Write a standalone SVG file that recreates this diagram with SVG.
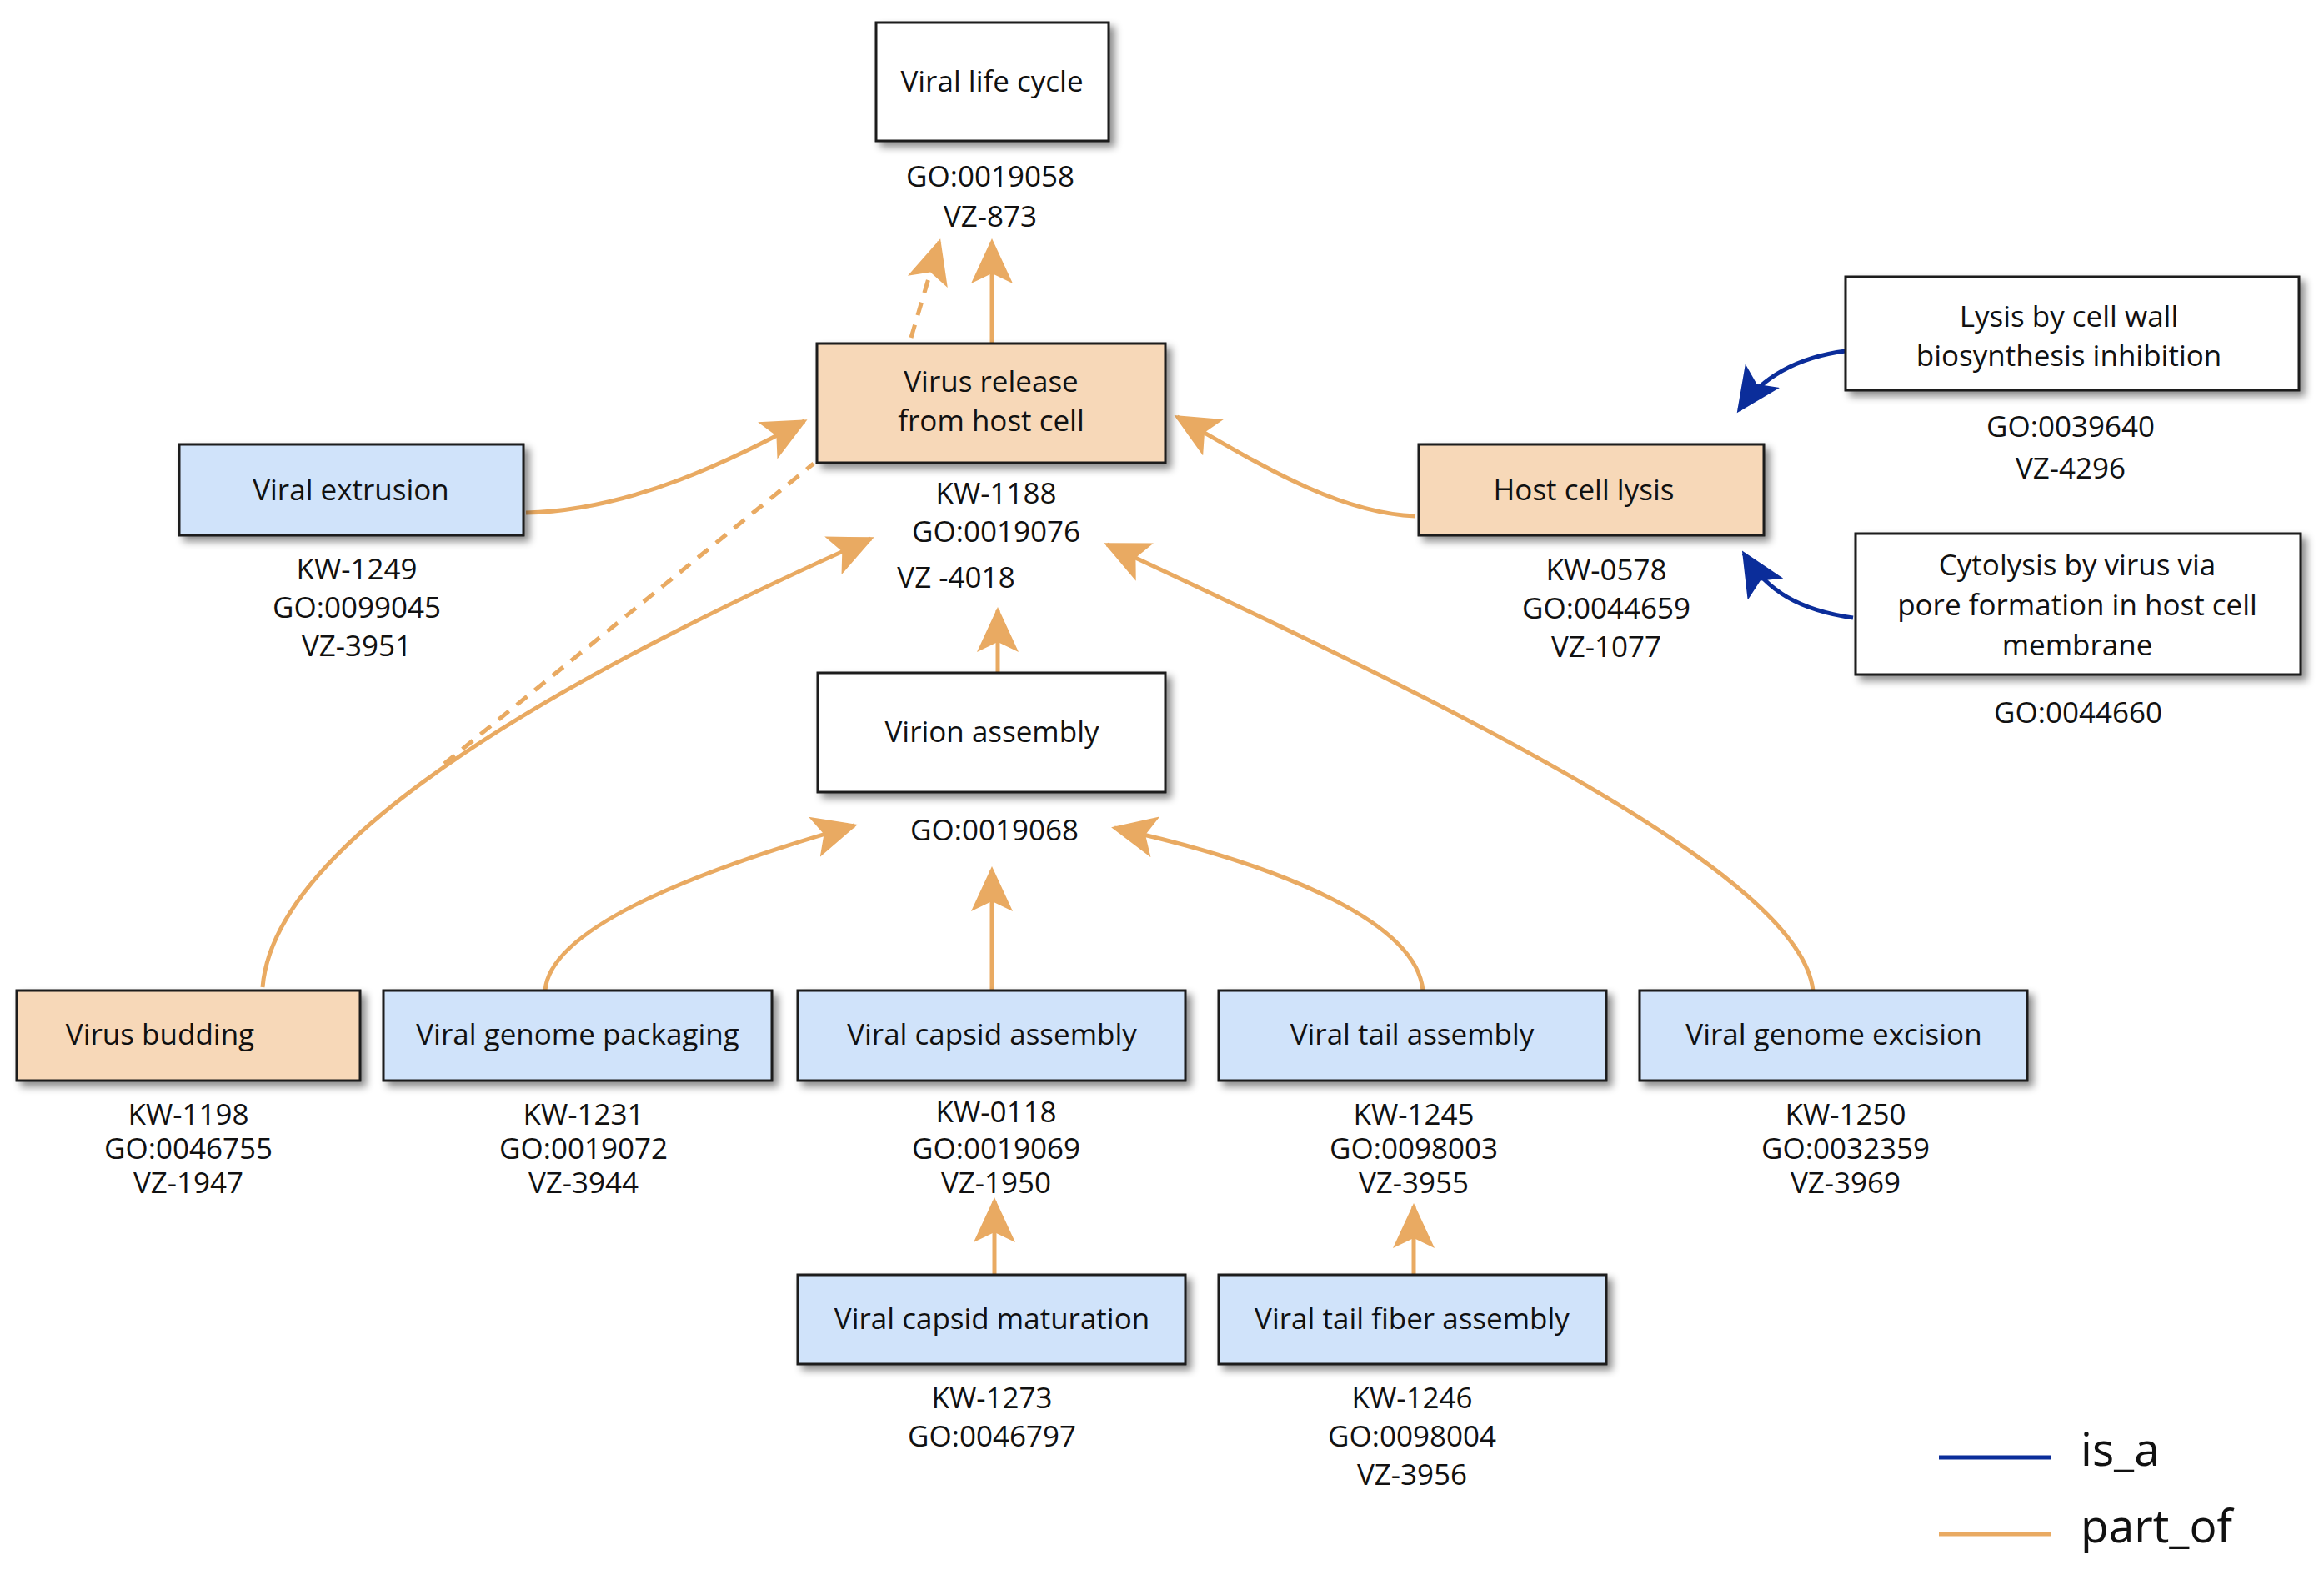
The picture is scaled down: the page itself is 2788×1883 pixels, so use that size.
<svg xmlns="http://www.w3.org/2000/svg" width="2788" height="1883" viewBox="0 0 2788 1883">
<style>
.b{stroke:#1a1a1a;stroke-width:3;filter:url(#sh)}
.w{fill:#fff}.p{fill:#f7d8b8}.c{fill:#d0e3fa}
text{font-family:"Open Sans","Liberation Sans",sans-serif;font-size:35px;fill:#111;text-anchor:middle}
.o{fill:none;stroke:#e9aa62;stroke-width:5}
.d{stroke-dasharray:16 12}
.i{fill:none;stroke:#0b2d9a;stroke-width:5}
</style>
<defs>
<filter id="sh" x="-10%" y="-10%" width="130%" height="140%"><feDropShadow dx="6" dy="6" stdDeviation="5" flood-color="#000" flood-opacity="0.45"/></filter>
<marker id="ao" markerUnits="userSpaceOnUse" markerWidth="60" markerHeight="50" refX="50" refY="25" orient="auto"><path d="M0,0 L54,25 L0,50 L12,25 Z" fill="#e9aa62"/></marker>
<marker id="ai" markerUnits="userSpaceOnUse" markerWidth="60" markerHeight="50" refX="50" refY="25" orient="auto"><path d="M0,0 L54,25 L0,50 L12,25 Z" fill="#0b2d9a"/></marker>
</defs>
<g id="connectors">
<path class="o" d="M1190,412 L1190,290" marker-end="url(#ao)"/>
<path class="o d" d="M1093,405 L1127,290" marker-end="url(#ao)"/>
<path class="o d" d="M533,916 L976,556"/>
<path class="o" d="M315,1184 C330,1000 700,800 1045,646" marker-end="url(#ao)"/>
<path class="o" d="M631,615 C760,612 880,550 965,505" marker-end="url(#ao)"/>
<path class="o" d="M1698,619 C1600,615 1500,550 1412,500" marker-end="url(#ao)"/>
<path class="o" d="M1197,807 L1197,732" marker-end="url(#ao)"/>
<path class="o" d="M2175,1188 C2160,1050 1750,850 1328,653" marker-end="url(#ao)"/>
<path class="o" d="M654,1188 C660,1110 850,1040 1025,990" marker-end="url(#ao)"/>
<path class="o" d="M1190,1188 L1190,1043" marker-end="url(#ao)"/>
<path class="o" d="M1707,1188 C1700,1110 1550,1040 1337,993" marker-end="url(#ao)"/>
<path class="o" d="M1193,1529 L1193,1440" marker-end="url(#ao)"/>
<path class="o" d="M1696,1529 L1696,1447" marker-end="url(#ao)"/>
<path class="i" d="M2214,421 C2160,428 2115,450 2086,492" marker-end="url(#ai)"/>
<path class="i" d="M2223,741 C2160,732 2120,710 2092,664" marker-end="url(#ai)"/>
</g>
<g id="n1"><rect class="b w" x="1051" y="27" width="279" height="142"/><text x="1190" y="110">Viral life cycle</text><text x="1188" y="224">GO:0019058</text><text x="1188" y="272">VZ-873</text></g>
<g id="n2"><rect class="b p" x="980" y="412" width="418" height="143"/><text x="1189" y="470">Virus release</text><text x="1189" y="517">from host cell</text><text x="1195" y="604">KW-1188</text><text x="1195" y="650">GO:0019076</text><text x="1147" y="705">VZ -4018</text></g>
<g id="n3"><rect class="b c" x="215" y="533" width="413" height="109"/><text x="421" y="600">Viral extrusion</text><text x="428" y="695">KW-1249</text><text x="428" y="741">GO:0099045</text><text x="428" y="787">VZ-3951</text></g>
<g id="n4"><rect class="b p" x="1702" y="533" width="414" height="109"/><text x="1900" y="600">Host cell lysis</text><text x="1927" y="696">KW-0578</text><text x="1927" y="742">GO:0044659</text><text x="1927" y="788">VZ-1077</text></g>
<g id="n5"><rect class="b w" x="2214" y="332" width="544" height="136"/><text x="2482" y="392">Lysis by cell wall</text><text x="2482" y="439">biosynthesis inhibition</text><text x="2484" y="524">GO:0039640</text><text x="2484" y="574">VZ-4296</text></g>
<g id="n6"><rect class="b w" x="2226" y="640" width="534" height="169"/><text x="2492" y="690">Cytolysis by virus via</text><text x="2492" y="738">pore formation in host cell</text><text x="2492" y="786">membrane</text><text x="2493" y="867">GO:0044660</text></g>
<g id="n7"><rect class="b w" x="981" y="807" width="417" height="143"/><text x="1190" y="890">Virion assembly</text><text x="1193" y="1008">GO:0019068</text></g>
<g id="n8"><rect class="b p" x="20" y="1188" width="412" height="108"/><text x="192" y="1253">Virus budding</text><text x="226" y="1349">KW-1198</text><text x="226" y="1390">GO:0046755</text><text x="226" y="1431">VZ-1947</text></g>
<g id="n9"><rect class="b c" x="460" y="1188" width="466" height="108"/><text x="693" y="1253">Viral genome packaging</text><text x="700" y="1349">KW-1231</text><text x="700" y="1390">GO:0019072</text><text x="700" y="1431">VZ-3944</text></g>
<g id="n10"><rect class="b c" x="957" y="1188" width="465" height="108"/><text x="1190" y="1253">Viral capsid assembly</text><text x="1195" y="1346">KW-0118</text><text x="1195" y="1390">GO:0019069</text><text x="1195" y="1431">VZ-1950</text></g>
<g id="n11"><rect class="b c" x="1462" y="1188" width="465" height="108"/><text x="1694" y="1253">Viral tail assembly</text><text x="1696" y="1349">KW-1245</text><text x="1696" y="1390">GO:0098003</text><text x="1696" y="1431">VZ-3955</text></g>
<g id="n12"><rect class="b c" x="1967" y="1188" width="465" height="108"/><text x="2200" y="1253">Viral genome excision</text><text x="2214" y="1349">KW-1250</text><text x="2214" y="1390">GO:0032359</text><text x="2214" y="1431">VZ-3969</text></g>
<g id="n13"><rect class="b c" x="957" y="1529" width="465" height="107"/><text x="1190" y="1594">Viral capsid maturation</text><text x="1190" y="1689">KW-1273</text><text x="1190" y="1735">GO:0046797</text></g>
<g id="n14"><rect class="b c" x="1462" y="1529" width="465" height="107"/><text x="1694" y="1594">Viral tail fiber assembly</text><text x="1694" y="1689">KW-1246</text><text x="1694" y="1735">GO:0098004</text><text x="1694" y="1781">VZ-3956</text></g>
<g id="legend"><line x1="2326" y1="1748" x2="2461" y2="1748" stroke="#0b2d9a" stroke-width="5"/><text x="2496" y="1758" style="font-size:55px;text-anchor:start">is_a</text><line x1="2326" y1="1840" x2="2461" y2="1840" stroke="#e9aa62" stroke-width="5"/><text x="2496" y="1850" style="font-size:55px;text-anchor:start">part_of</text></g>
</svg>
